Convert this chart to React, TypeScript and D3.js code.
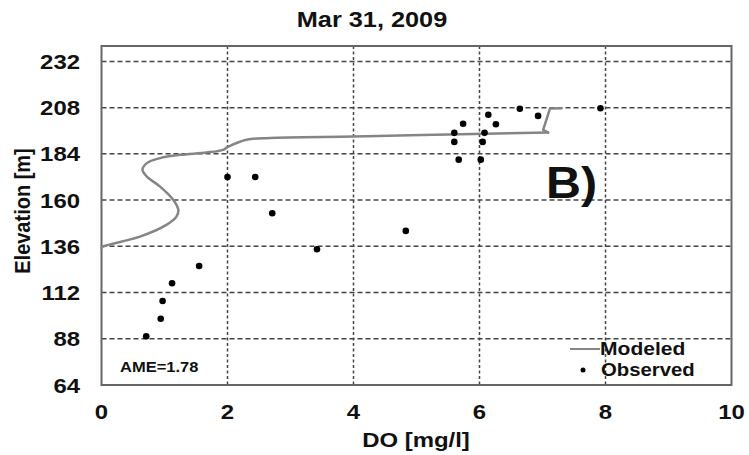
import React from "react";
import * as d3 from "d3";

const title = "Mar 31, 2009";
const xTicks = [0, 2, 4, 6, 8, 10];
const yTicks = [64, 88, 112, 136, 160, 184, 208, 232];

// Modeled DO profile: [DO mg/l, elevation m]
const modeledDO = [0, 0.02, 0.61, 1.03, 1.19, 1.22, 1.14, 0.93, 0.72, 0.65, 0.72, 0.93, 1.25, 1.67, 1.93, 2.0, 2.3, 2.67, 4.0, 4.9, 7.09, 7.01, 7.12, 7.3];
const modeledElev = [135.2, 135.8, 141, 147.1, 151.4, 154.9, 160.1, 167, 172.2, 175.7, 179.2, 181.8, 183.5, 184.7, 186.1, 187.5, 191.3, 192.3, 193, 193.7, 195.1, 196.5, 207.6, 207.7];

// Observed DO
const observedDO = [2.0, 2.44, 2.71, 3.42, 4.83, 6.64, 6.93, 7.92, 6.14, 6.26, 5.74, 5.6, 5.6, 6.08, 6.05, 5.67, 6.02, 1.55, 1.12, 0.97, 0.94, 0.71];
const observedElev = [172, 172, 153.2, 134.5, 144, 207.4, 203.7, 207.7, 204.3, 199.4, 199.6, 194.9, 190.2, 194.9, 190.2, 181, 181, 125.8, 116.8, 107.6, 98.4, 89.3];

const FONT = "'Liberation Sans', Arial, sans-serif";

function T({ x, y, size, anchor = "start", children, rotate = false, sx = 1.14 }: any) {
  const tr = rotate
    ? `translate(${x},${y}) scale(${sx},1) rotate(-90)`
    : `translate(${x},${y}) scale(${sx},1)`;
  return (
    <text transform={tr} fontSize={size} fontFamily={FONT} fontWeight="bold" textAnchor={anchor} fill="#111">
      {children}
    </text>
  );
}

export default function App() {
  const W = 749, H = 455;
  const left = 101.5, right = 731.5, top = 46, bottom = 385;
  const x = d3.scaleLinear().domain([0, 10]).range([left, right]);
  const y = d3.scaleLinear().domain([64, 240]).range([bottom, top]);

  const modeled = modeledDO.map((d, i) => [d, modeledElev[i]] as [number, number]);
  const smooth = d3.line<[number, number]>().x(d => x(d[0])).y(d => y(d[1])).curve(d3.curveCatmullRom.alpha(0.5));
  const straight = d3.line<[number, number]>().x(d => x(d[0])).y(d => y(d[1]));
  const split = 20;

  return (
    <svg width={W} height={H} style={{ position: "absolute", left: 0, top: 0, background: "#fff" }}>
      <rect x={0} y={0} width={W} height={H} fill="#fff" />
      {/* grid */}
      {yTicks.filter(t => t > 64).map(t => (
        <line key={"gy" + t} x1={left} x2={right} y1={y(t)} y2={y(t)} stroke="#444" strokeWidth={1.5} strokeDasharray="5 3" />
      ))}
      {xTicks.filter(t => t > 0 && t < 10).map(t => (
        <line key={"gx" + t} x1={x(t)} x2={x(t)} y1={top} y2={bottom} stroke="#444" strokeWidth={1.5} strokeDasharray="3 2.5" />
      ))}
      {/* frame */}
      <rect x={left} y={top} width={right - left} height={bottom - top} fill="none" stroke="#666" strokeWidth={2} />

      {/* modeled */}
      <path d={smooth(modeled.slice(0, split + 1)) || ""} fill="none" stroke="#858585" strokeWidth={2.5} strokeLinejoin="round" strokeLinecap="round" />
      <path d={straight(modeled.slice(split)) || ""} fill="none" stroke="#858585" strokeWidth={2.5} strokeLinejoin="round" strokeLinecap="round" />
      {/* observed */}
      {observedDO.map((d, i) => (
        <circle key={"o" + i} cx={x(d)} cy={y(observedElev[i])} r={3.3} fill="#000" />
      ))}

      {/* ticks */}
      {yTicks.map(t => (
        <T key={"yl" + t} x={80} y={y(t) + 7.5} size={21} anchor="end">{t}</T>
      ))}
      {xTicks.map(t => (
        <T key={"xl" + t} x={x(t)} y={419} size={21} anchor="middle">{t}</T>
      ))}

      <T x={372} y={27} size={22} anchor="middle" sx={1.15}>{title}</T>
      <T x={416} y={447} size={21} anchor="middle">DO [mg/l]</T>
      <T x={30} y={211} size={20} anchor="middle" rotate>Elevation [m]</T>

      <T x={546} y={198} size={44} sx={1.1}>B)</T>
      <T x={120} y={372} size={14} sx={1.18}>AME=1.78</T>

      {/* legend */}
      <line x1={570} x2={600} y1={349} y2={349} stroke="#858585" strokeWidth={2} />
      <T x={600} y={355} size={18} sx={1.17}>Modeled</T>
      <circle cx={583} cy={370} r={2.5} fill="#000" />
      <T x={601} y={376} size={18} sx={1.13}>Observed</T>
    </svg>
  );
}
